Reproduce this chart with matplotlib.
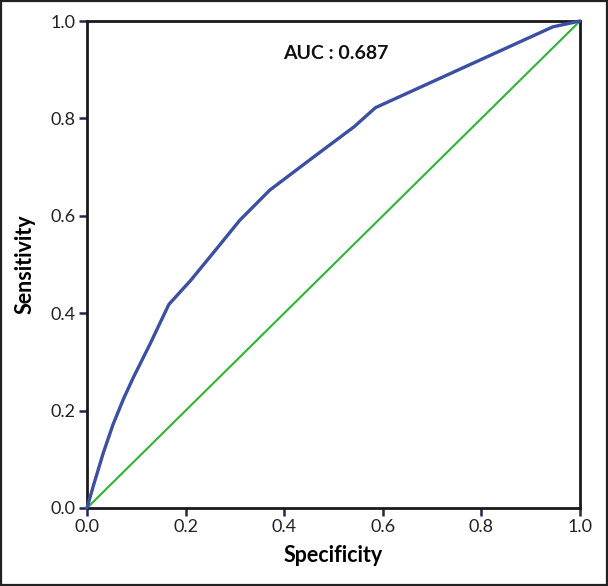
import matplotlib
matplotlib.use("Agg")
import matplotlib.pyplot as plt
from matplotlib.patches import Rectangle

plt.rcParams['font.family'] = ['Lato', 'DejaVu Sans']

# ROC curve points (1 - specificity, sensitivity)
fpr = [0.0, 0.013, 0.033, 0.053, 0.074, 0.094, 0.128, 0.166, 0.21, 0.257,
       0.31, 0.371, 0.46, 0.542, 0.585, 0.945, 1.0]
tpr = [0.0, 0.046, 0.113, 0.172, 0.224, 0.268, 0.337, 0.418, 0.467, 0.525,
       0.591, 0.653, 0.721, 0.783, 0.822, 0.988, 1.0]
ref_x = [0.0, 1.0]
ref_y = [0.0, 1.0]
ticks = [0.0, 0.2, 0.4, 0.6, 0.8, 1.0]
tick_labels = ["0.0", "0.2", "0.4", "0.6", "0.8", "1.0"]
auc_text = "AUC : 0.687"

fig = plt.figure(figsize=(6.08, 5.86), dpi=100)
ax = fig.add_axes([87/608, 1-508/586, (580-87)/608, (508-21)/586])

ax.plot(ref_x, ref_y, color='#2db533', lw=1.5, zorder=2, clip_on=False)
ax.plot(fpr, tpr, color='#3b4fa3', lw=2.4, zorder=3, clip_on=False,
        solid_joinstyle='round', solid_capstyle='round')

ax.set_xlim(0, 1)
ax.set_ylim(0, 1)
ax.set_xticks(ticks)
ax.set_xticklabels(tick_labels)
ax.set_yticks(ticks)
ax.set_yticklabels(tick_labels)
ax.tick_params(direction='out', length=6, width=1.8, color='#1f2650',
               labelsize=13, labelcolor='#222222', pad=2)
for s in ax.spines.values():
    s.set_linewidth(2.0)
    s.set_color('#1a1a1a')

ax.set_xlabel("Specificity", fontsize=15.5, fontweight='bold', labelpad=7)
ax.set_ylabel("Sensitivity", fontsize=15.5, fontweight='bold', labelpad=11)
ax.text(0.398, 0.934, auc_text, fontsize=14, fontweight='bold',
        ha='left', va='center', color='#111111')

fig.patches.append(Rectangle((0.0015, 0.0015), 0.997, 0.997, transform=fig.transFigure,
                             fill=False, edgecolor='#222222', lw=1.6))

fig.savefig("out.png", dpi=100)
